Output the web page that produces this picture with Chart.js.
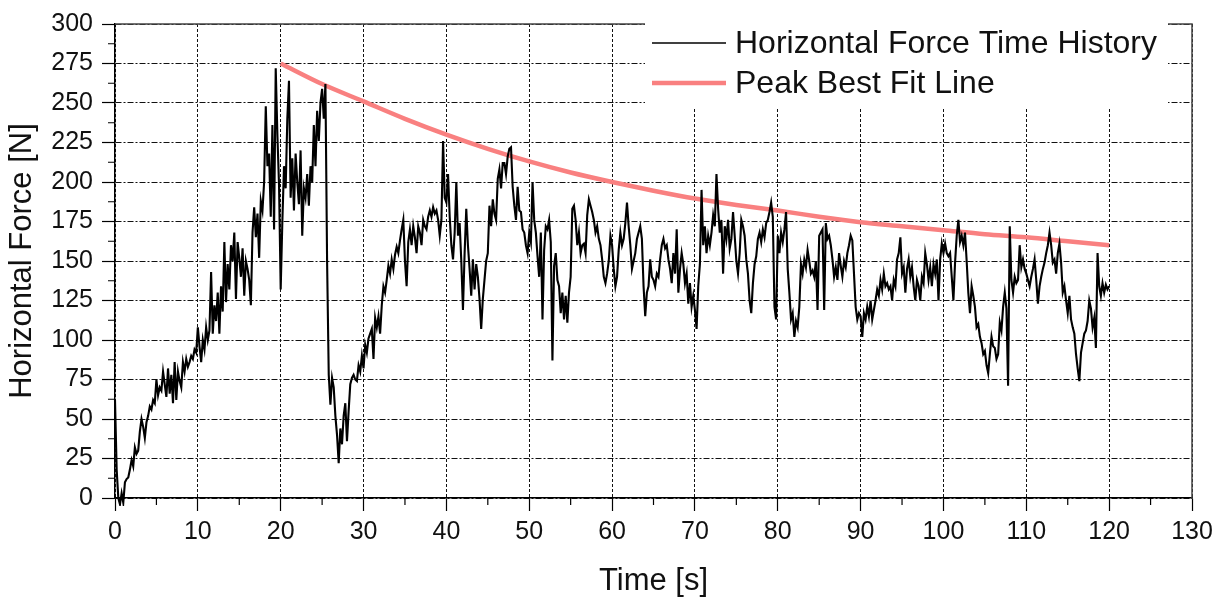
<!DOCTYPE html>
<html>
<head>
<meta charset="utf-8">
<script src="https://cdn.jsdelivr.net/npm/chart.js@4.4.0/dist/chart.umd.min.js"></script>
<style>
  html, body { margin: 0; padding: 0; background: #fff; }
  canvas { display: block; }
</style>
</head>
<body>
<canvas id="forceChart" width="1231" height="600"></canvas>
<script>
// force samples every 0.2 s, one row per second
const sampleStep = 0.2;
const forceValues = [
  62, 18, 0, -4, 3,
  -3, 10, 12, 13, 18,
  24, 20, 32, 28, 30,
  42, 50, 45, 38, 48,
  52, 58, 56, 62, 60,
  75, 65, 70, 68, 80,
  72, 64, 82, 66, 78,
  60, 86, 62, 80, 74,
  70, 86, 80, 88, 83,
  86, 90, 88, 94, 92,
  108, 96, 86, 100, 94,
  108, 100, 106, 143, 104,
  122, 112, 130, 104, 134,
  118, 162, 124, 148, 132,
  160, 150, 168, 126, 162,
  152, 140, 158, 128, 150,
  145, 138, 122, 168, 184,
  165, 180, 152, 188, 182,
  200, 248, 210, 218, 178,
  236, 170, 272, 230, 198,
  132, 175, 210, 196, 240,
  264, 190, 215, 182, 218,
  200, 186, 220, 166, 196,
  190, 205, 185, 210, 200,
  236, 210, 245, 226, 250,
  259, 240, 262, 150, 78,
  59, 76, 70, 52, 40,
  22, 44, 34, 52, 60,
  36, 55, 72, 76, 78,
  75, 74, 84, 80, 90,
  82, 97, 92, 101, 104,
  107, 88, 114, 108, 115,
  104, 122, 134, 130, 138,
  147, 142, 151, 145, 154,
  159, 155, 163, 170, 176,
  150, 134, 162, 170, 160,
  172, 165, 155, 172, 168,
  160, 176, 172, 170, 178,
  182, 178, 184, 180, 182,
  176, 166, 176, 226, 190,
  187, 205, 178, 160, 151,
  168, 200, 166, 174, 150,
  119, 155, 183, 160, 145,
  128, 151, 132, 148, 140,
  126, 107, 126, 138, 150,
  155, 185, 172, 189, 180,
  176, 202, 208, 196, 212,
  212, 205, 216, 221, 222,
  197, 185, 176, 197, 182,
  181, 170, 168, 160, 155,
  168, 162, 200, 176, 168,
  153, 140, 168, 113, 157,
  172, 170, 176, 162, 87,
  147, 155, 138, 134, 117,
  130, 113, 128, 111, 130,
  140, 183, 185, 176, 160,
  168, 155, 160, 161, 155,
  179, 189, 185, 181, 176,
  168, 172, 164, 160, 151,
  140, 136, 142, 150, 166,
  160, 145, 134, 140, 157,
  168, 160, 164, 174, 187,
  172, 160, 145, 150, 155,
  164, 168, 172, 164, 134,
  115, 130, 134, 151, 140,
  138, 134, 142, 140, 151,
  160, 164, 158, 160, 151,
  145, 136, 155, 142, 170,
  130, 145, 155, 148, 136,
  142, 123, 136, 121, 128,
  119, 107, 134, 148, 195,
  160, 172, 155, 166, 160,
  168, 179, 172, 205, 183,
  168, 176, 142, 172, 164,
  176, 158, 164, 181, 166,
  150, 142, 155, 176, 172,
  166, 151, 142, 125, 117,
  136, 148, 153, 164, 168,
  162, 170, 165, 174, 176,
  181, 187, 178, 121, 113,
  166, 155, 168, 162, 170,
  181, 145, 130, 113, 117,
  102, 112, 108, 121, 148,
  142, 151, 146, 157, 150,
  142, 144, 140, 150, 119,
  166, 168, 170, 119, 174,
  164, 166, 160, 151, 140,
  146, 138, 155, 147, 140,
  150, 146, 155, 160, 166,
  163, 142, 121, 113, 117,
  115, 102, 117, 113, 121,
  115, 125, 113, 119, 125,
  132, 128, 138, 132, 142,
  134, 136, 132, 134, 125,
  138, 134, 151, 155, 165,
  142, 146, 130, 145, 151,
  140, 146, 134, 125, 138,
  134, 125, 140, 136, 155,
  148, 138, 146, 134, 148,
  142, 151, 125, 151, 161,
  155, 161, 155, 153, 155,
  140, 125, 149, 166, 176,
  162, 166, 160, 168, 150,
  130, 117, 134, 128, 121,
  108, 110, 102, 98, 91,
  93, 84, 79, 91, 102,
  96, 95, 88, 91, 111,
  106, 121, 130, 120, 71,
  172, 138, 130, 140, 136,
  138, 160, 146, 151, 145,
  142, 138, 134, 140, 145,
  151, 138, 123, 134, 140,
  145, 149, 155, 160, 168,
  160, 149, 151, 142, 155,
  161, 149, 130, 134, 125,
  117, 128, 113, 108, 104,
  91, 82, 74, 92, 98,
  104, 106, 112, 125, 120,
  108, 114, 95, 155, 134,
  128, 136, 130, 135, 132,
  134
];

const fitTimes = [20, 25, 30, 35, 40, 45, 50, 55, 60, 65, 70, 75, 80, 85, 90, 95, 100, 105, 110, 115, 120];
const fitValues = [275, 262, 251, 240, 230, 221, 213, 206, 200, 194.5, 189.5, 185.5, 182, 178, 174.5, 172, 169.5, 167, 165, 162.5, 160];

const xTicks = [0, 10, 20, 30, 40, 50, 60, 70, 80, 90, 100, 110, 120, 130];
const yTicks = [0, 25, 50, 75, 100, 125, 150, 175, 200, 225, 250, 275, 300];
const seriesNames = ['Horizontal Force Time History', 'Peak Best Fit Line'];

const fontName = '"Liberation Sans", Arial, sans-serif';
const pink = '#f98080';

historyPoints = forceValues.map((v, i) => ({x: Math.round(i * sampleStep * 10) / 10, y: v}));
fitPoints = fitTimes.map((t, i) => ({x: t, y: fitValues[i]}));

// frame, minor ticks and the boxed legend
extras = {
  id: 'extras',
  afterDraw(chart) {
    const ctx = chart.ctx;
    const a = chart.chartArea;
    const xs = chart.scales.x;
    const ys = chart.scales.y;
    ctx.save();
    ctx.strokeStyle = '#444';
    ctx.lineWidth = 1.5;
    ctx.beginPath();
    ctx.moveTo(a.left, a.top);
    ctx.lineTo(a.right, a.top);
    ctx.lineTo(a.right, a.bottom);
    ctx.stroke();

    ctx.strokeStyle = '#000';
    ctx.lineWidth = 1.2;
    ctx.beginPath();
    for (let i = 0; i < xTicks.length - 1; i++) {
      const px = xs.getPixelForValue(xTicks[i] + 5);
      ctx.moveTo(px, a.bottom);
      ctx.lineTo(px, a.bottom + 7);
    }
    for (let i = 0; i < yTicks.length - 1; i++) {
      const py = ys.getPixelForValue(yTicks[i] + 12.5);
      ctx.moveTo(a.left, py);
      ctx.lineTo(a.left - 7, py);
    }
    ctx.stroke();

    ctx.fillStyle = '#fff';
    ctx.fillRect(645, a.top - 3, 523, 87);
    ctx.font = '32px ' + fontName;
    ctx.textBaseline = 'middle';
    ctx.fillStyle = '#111';
    chart.data.datasets.forEach((ds, i) => {
      const y = 43 + i * 40;
      ctx.strokeStyle = ds.borderColor;
      ctx.lineWidth = i === 0 ? 1.5 : ds.borderWidth;
      ctx.beginPath();
      ctx.moveTo(652, y);
      ctx.lineTo(726, y);
      ctx.stroke();
      ctx.fillText(ds.label, 735, y + 1);
    });
    ctx.restore();
  }
};

chart = new Chart(document.getElementById('forceChart').getContext('2d'), {
  type: 'line',
  data: {
    datasets: [{
      label: seriesNames[0],
      data: historyPoints,
      borderColor: '#000',
      borderWidth: 2.1,
      pointRadius: 0,
      tension: 0,
      clip: 8
    }, {
      label: seriesNames[1],
      data: fitPoints,
      borderColor: pink,
      borderWidth: 4.5,
      pointRadius: 0,
      cubicInterpolationMode: 'monotone'
    }]
  },
  options: {
    responsive: false,
    animation: false,
    devicePixelRatio: 1,
    layout: { padding: { top: 24, right: 39, left: 0, bottom: 0 } },
    plugins: { legend: { display: false }, tooltip: { enabled: false } },
    scales: {
      x: {
        type: 'linear',
        min: 0,
        max: 130,
        afterFit: (s) => { s.height = 102; },
        afterBuildTicks: (s) => { s.ticks = xTicks.map(v => ({value: v})); },
        ticks: { font: { size: 25, family: fontName }, color: '#111', padding: 6, maxRotation: 0 },
        grid: { color: '#111', lineWidth: 1, tickLength: 13, tickColor: '#000', tickWidth: 1.2 },
        border: { color: '#000', width: 1.5, dash: [3, 2] },
        title: { display: true, text: 'Time [s]', font: { size: 31, family: fontName }, color: '#111', padding: { top: 0, bottom: 0 } }
      },
      y: {
        min: 0,
        max: 300,
        afterFit: (s) => { s.width = 115; },
        afterBuildTicks: (s) => { s.ticks = yTicks.map(v => ({value: v})); },
        ticks: { font: { size: 25, family: fontName }, color: '#111', padding: 9 },
        grid: { color: '#111', lineWidth: 1, tickLength: 13, tickColor: '#000', tickWidth: 1.2 },
        border: { color: '#000', width: 1.5, dash: [6, 2, 2, 2] },
        title: { display: true, text: 'Horizontal Force [N]', font: { size: 31, family: fontName }, color: '#111', padding: { top: 4, bottom: 0 } }
      }
    }
  },
  plugins: [extras]
});
</script>
</body>
</html>
